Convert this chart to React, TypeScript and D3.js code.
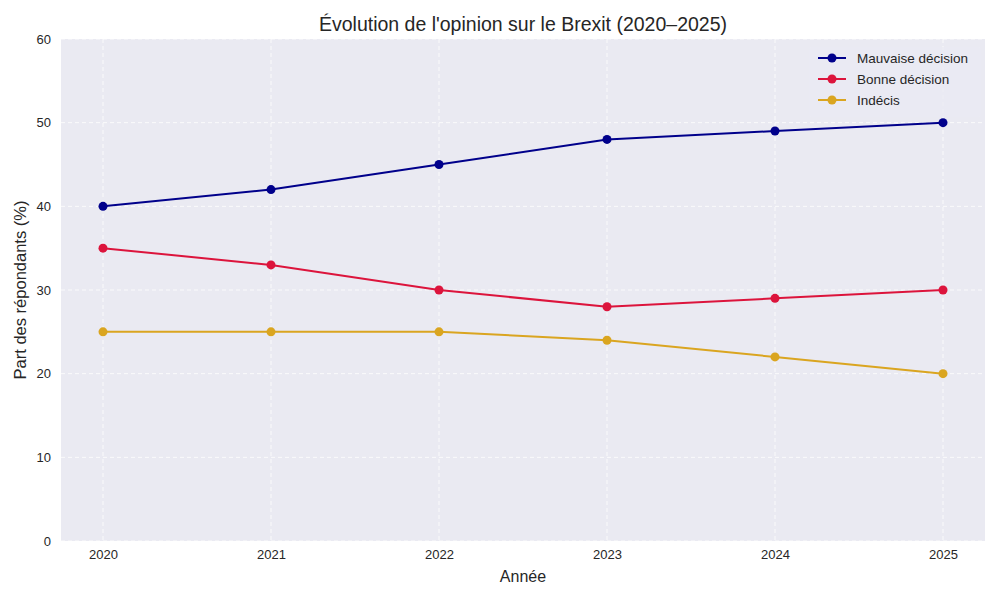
import React, { useRef, useEffect } from 'react';
import * as d3 from 'd3';

// données
const years: number[] = [2020, 2021, 2022, 2023, 2024, 2025];
const mauvaise: number[] = [40, 42, 45, 48, 49, 50];
const bonne: number[] = [35, 33, 30, 28, 29, 30];
const indecis: number[] = [25, 25, 25, 24, 22, 20];
const yTicks: number[] = [0, 10, 20, 30, 40, 50, 60];

const seriesNames = ['Mauvaise décision', 'Bonne décision', 'Indécis'];
const seriesColors = ['#00008B', '#DC143C', '#DAA520'];

const width = 1000;
const height = 600;
const margin = { top: 39, right: 15, bottom: 59, left: 61 };

const App: React.FC = () => {
  const svgRef = useRef<SVGSVGElement>(null);

  useEffect(() => {
    if (!svgRef.current) return;
    const svg = d3.select(svgRef.current);
    svg.selectAll('*').remove();

    const font = 'Liberation Sans, Arial, sans-serif';
    const innerW = width - margin.left - margin.right;
    const innerH = height - margin.top - margin.bottom;

    const x = d3.scaleLinear().domain([2019.75, 2025.25]).range([0, innerW]);
    const y = d3.scaleLinear().domain([0, 60]).range([innerH, 0]);

    const g = svg.append('g').attr('transform', `translate(${margin.left},${margin.top})`);

    // fond
    g.append('rect').attr('width', innerW).attr('height', innerH).attr('fill', '#EAEAF2');

    // grille
    g.selectAll('.hgrid')
      .data(yTicks)
      .enter()
      .append('line')
      .attr('x1', 0)
      .attr('x2', innerW)
      .attr('y1', d => y(d))
      .attr('y2', d => y(d))
      .attr('stroke', '#ffffff')
      .attr('stroke-width', 1)
      .attr('stroke-dasharray', '4,3')
      .attr('opacity', 0.8);

    g.selectAll('.vgrid')
      .data(years)
      .enter()
      .append('line')
      .attr('y1', 0)
      .attr('y2', innerH)
      .attr('x1', d => x(d))
      .attr('x2', d => x(d))
      .attr('stroke', '#ffffff')
      .attr('stroke-width', 1)
      .attr('stroke-dasharray', '4,3')
      .attr('opacity', 0.8);

    // axes
    const yAxis = g.append('g').call(d3.axisLeft(y).tickValues(yTicks).tickSize(0).tickPadding(10));
    yAxis.select('.domain').remove();
    yAxis.selectAll('text').attr('font-family', font).attr('font-size', 13).attr('fill', '#262626');

    const xAxis = g
      .append('g')
      .attr('transform', `translate(0,${innerH})`)
      .call(d3.axisBottom(x).tickValues(years).tickFormat(d3.format('d')).tickSize(0).tickPadding(9));
    xAxis.select('.domain').remove();
    xAxis.selectAll('text').attr('font-family', font).attr('font-size', 13).attr('fill', '#262626');

    // séries
    const allSeries = [mauvaise, bonne, indecis];
    const line = d3
      .line<number>()
      .x((_, i) => x(years[i]))
      .y(d => y(d));

    allSeries.forEach((vals, si) => {
      g.append('path')
        .datum(vals)
        .attr('d', line)
        .attr('fill', 'none')
        .attr('stroke', seriesColors[si])
        .attr('stroke-width', 2);
      g.selectAll(`.pt${si}`)
        .data(vals)
        .enter()
        .append('circle')
        .attr('cx', (_, i) => x(years[i]))
        .attr('cy', d => y(d))
        .attr('r', 4.5)
        .attr('fill', seriesColors[si]);
    });

    // légende
    const legend = g.append('g').attr('transform', `translate(${innerW - 176},8)`);
    legend
      .append('rect')
      .attr('x', 0)
      .attr('y', 0)
      .attr('width', 172)
      .attr('height', 70)
      .attr('rx', 3)
      .attr('fill', '#EAEAF2')
      .attr('opacity', 0.8);
    seriesNames.forEach((name, i) => {
      const ly = 11 + i * 21;
      legend
        .append('line')
        .attr('x1', 9)
        .attr('x2', 37)
        .attr('y1', ly)
        .attr('y2', ly)
        .attr('stroke', seriesColors[i])
        .attr('stroke-width', 2);
      legend.append('circle').attr('cx', 23).attr('cy', ly).attr('r', 4.5).attr('fill', seriesColors[i]);
      legend
        .append('text')
        .attr('x', 48)
        .attr('y', ly)
        .attr('dy', '0.35em')
        .attr('font-family', font)
        .attr('font-size', 13.5)
        .attr('fill', '#262626')
        .text(name);
    });

    // titres
    svg
      .append('text')
      .attr('x', margin.left + innerW / 2)
      .attr('y', 31)
      .attr('text-anchor', 'middle')
      .attr('font-family', font)
      .attr('font-size', 19.5)
      .attr('fill', '#262626')
      .text("Évolution de l'opinion sur le Brexit (2020–2025)");

    svg
      .append('text')
      .attr('x', margin.left + innerW / 2)
      .attr('y', 582)
      .attr('text-anchor', 'middle')
      .attr('font-family', font)
      .attr('font-size', 16)
      .attr('fill', '#262626')
      .text('Année');

    svg
      .append('text')
      .attr('transform', `translate(26,${margin.top + innerH / 2}) rotate(-90)`)
      .attr('text-anchor', 'middle')
      .attr('font-family', font)
      .attr('font-size', 16.5)
      .attr('fill', '#262626')
      .text('Part des répondants (%)');
  }, []);

  return (
    <div style={{ position: 'absolute', top: 0, left: 0, width, height, background: '#fff' }}>
      <svg ref={svgRef} width={width} height={height} />
    </div>
  );
};

export default App;
